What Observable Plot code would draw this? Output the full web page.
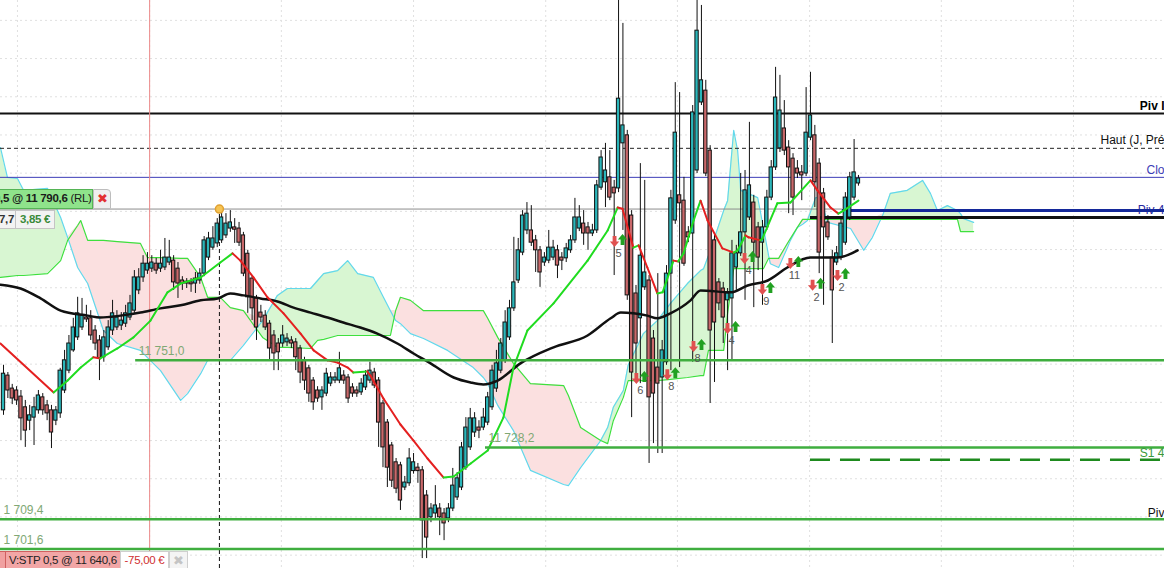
<!DOCTYPE html>
<html>
<head>
<meta charset="utf-8">
<script src="https://cdn.jsdelivr.net/npm/d3@7"></script>
<script src="https://cdn.jsdelivr.net/npm/@observablehq/plot@0.6"></script>
<style>
  html, body { margin: 0; padding: 0; overflow: hidden; background: #fff; }
  #chart { position: relative; width: 1164px; height: 568px; overflow: hidden;
           font-family: "Liberation Sans", Arial, sans-serif; }
  .tag { position: absolute; box-sizing: border-box; font-size: 11.5px; line-height: 17px;
         white-space: nowrap; border: 1px solid; overflow: hidden; letter-spacing: -0.3px; }
</style>
</head>
<body>
<div id="chart"></div>
<script>
// candles, one per bar (price units)
const open = [11737.9,11747.0,11743.6,11743.1,11741.5,11738.7,11735.2,11736.0,11737.9,11741.3,
  11739.2,11737.9,11735.2,11737.1,11743.1,11748.3,11753.6,11757.0,11759.6,11762.2,
  11762.0,11758.8,11756.2,11751.8,11754.4,11758.8,11759.6,11760.1,11760.6,11762.2,
  11764.0,11769.3,11772.7,11774.5,11775.0,11776.3,11775.0,11775.3,11776.6,11777.1,
  11775.0,11771.9,11771.6,11771.4,11771.1,11771.9,11773.7,11777.9,11780.5,11781.6,
  11782.4,11783.7,11785.5,11785.8,11785.5,11783.7,11778.9,11772.4,11767.2,11763.5,
  11762.7,11760.6,11757.5,11755.4,11755.4,11755.7,11756.2,11755.7,11754.1,11751.0,
  11748.9,11745.7,11743.1,11741.3,11742.3,11744.9,11745.7,11745.7,11747.0,11746.5,
  11743.9,11743.1,11742.6,11743.9,11745.7,11747.8,11745.7,11739.7,11734.7,11728.7,
  11724.3,11723.5,11717.7,11718.8,11722.0,11722.9,11722.2,11715.6,11709.9,11710.9,
  11712.2,11710.9,11709.6,11712.2,11715.1,11717.7,11722.9,11728.2,11732.1,11733.4,
  11733.4,11734.7,11738.7,11743.6,11748.3,11751.0,11757.0,11764.6,11771.9,11779.2,
  11785.0,11785.0,11782.4,11779.8,11776.6,11777.1,11777.9,11779.8,11777.9,11777.7,
  11779.8,11782.4,11785.5,11786.8,11785.8,11784.2,11785.0,11796.2,11797.6,11798.9,
  11796.2,11796.0,11807.8,11809.9,11788.9,11768.5,11762.0,11770.1,11771.9,11756.7,
  11749.1,11746.5,11750.5,11773.7,11787.6,11794.2,11792.8,11784.5,11784.2,11800.7,
  11818.5,11821.6,11805.9,11782.4,11771.4,11769.8,11766.7,11767.2,11775.3,11779.0,
  11784.5,11788.4,11792.3,11785.8,11781.8,11785.8,11793.6,11801.5,11806.5,11811.7,
  11806.7,11803.8,11801.2,11800.2,11799.9,11809.3,11809.9,11802.5,11794.7,11787.1,
  11777.9,11776.6,11777.9,11781.8,11788.4,11793.6,11797.3];
const high = [11749.7,11747.8,11744.7,11744.1,11743.1,11740.5,11739.2,11741.3,11743.1,11742.3,
  11740.5,11739.2,11738.9,11748.9,11753.6,11757.5,11762.0,11767.5,11767.2,11765.4,
  11764.0,11760.1,11757.5,11758.8,11761.4,11766.7,11764.0,11763.5,11765.4,11768.0,
  11774.5,11775.0,11778.4,11779.2,11778.4,11777.7,11779.8,11782.9,11782.4,11778.4,
  11776.6,11772.9,11772.4,11772.4,11774.0,11775.0,11783.4,11784.5,11786.0,11788.1,
  11789.7,11789.4,11790.2,11788.1,11787.1,11784.5,11779.8,11773.2,11768.0,11765.4,
  11764.0,11761.4,11758.8,11756.7,11760.1,11758.0,11757.2,11756.7,11754.9,11751.8,
  11749.7,11746.5,11744.1,11744.1,11748.9,11747.8,11747.8,11753.1,11748.3,11747.3,
  11744.9,11744.1,11746.2,11748.3,11750.5,11748.9,11746.5,11740.5,11735.5,11729.5,
  11725.3,11724.3,11720.6,11727.9,11726.6,11724.0,11723.2,11716.9,11713.5,11718.2,
  11713.5,11712.2,11713.5,11722.7,11721.6,11729.5,11736.0,11738.4,11737.3,11735.2,
  11738.4,11742.6,11749.7,11753.6,11756.7,11764.0,11766.7,11783.2,11782.9,11790.2,
  11792.3,11791.5,11783.7,11780.8,11779.2,11785.0,11782.4,11781.1,11779.2,11781.6,
  11783.7,11793.4,11791.5,11790.2,11787.1,11786.6,11798.1,11805.9,11807.8,11805.9,
  11798.1,11846.5,11839.2,11811.2,11790.2,11770.6,11802.5,11798.1,11773.2,11758.8,
  11773.7,11756.2,11775.8,11795.5,11823.7,11821.1,11798.9,11786.0,11817.7,11846.5,
  11843.9,11824.3,11807.2,11783.7,11772.4,11771.4,11769.8,11782.4,11781.1,11799.9,
  11800.7,11813.3,11794.2,11787.1,11787.6,11795.5,11803.3,11827.7,11825.6,11819.0,
  11808.5,11805.1,11803.3,11802.0,11822.4,11826.4,11812.5,11803.8,11796.0,11788.9,
  11779.8,11780.8,11788.1,11794.9,11800.2,11808.8,11799.4];
const low = [11736.6,11741.0,11739.4,11739.2,11730.0,11728.2,11732.6,11728.7,11736.9,11736.6,
  11735.2,11727.9,11733.9,11735.8,11742.3,11747.5,11753.1,11756.2,11758.8,11760.9,
  11756.2,11753.6,11745.7,11750.5,11753.6,11757.5,11758.8,11758.8,11759.6,11761.4,
  11763.3,11768.2,11771.4,11773.5,11774.0,11773.5,11774.0,11774.5,11775.8,11769.3,
  11767.2,11769.3,11769.8,11768.8,11768.5,11770.9,11772.9,11777.1,11779.8,11780.5,
  11781.6,11782.9,11784.5,11781.6,11780.8,11772.9,11763.3,11761.4,11756.2,11760.9,
  11758.8,11751.0,11748.3,11748.3,11754.4,11754.6,11754.1,11748.3,11744.9,11743.1,
  11740.0,11737.9,11740.0,11737.9,11741.5,11744.1,11744.9,11744.9,11744.7,11739.7,
  11741.3,11741.3,11741.8,11743.1,11744.9,11743.6,11728.2,11722.9,11717.7,11717.7,
  11716.1,11711.7,11716.9,11718.0,11721.2,11718.8,11699.1,11699.1,11708.5,11709.6,
  11705.1,11703.8,11708.5,11711.4,11714.3,11716.9,11722.2,11727.4,11730.8,11730.5,
  11732.6,11733.9,11737.9,11742.6,11747.5,11750.2,11756.2,11763.8,11771.1,11778.4,
  11783.9,11780.8,11774.0,11770.1,11775.6,11776.3,11777.1,11772.4,11774.5,11776.6,
  11779.0,11781.6,11784.7,11781.1,11779.8,11783.4,11784.2,11795.5,11791.0,11792.8,
  11773.2,11794.9,11785.0,11766.7,11736.0,11745.7,11744.9,11769.3,11724.0,11729.2,
  11726.6,11726.6,11749.7,11748.3,11786.6,11749.1,11775.6,11781.8,11750.5,11799.9,
  11817.7,11799.1,11739.7,11745.2,11764.0,11755.4,11748.3,11751.0,11769.3,11778.2,
  11766.7,11787.6,11764.8,11774.5,11765.4,11785.0,11792.8,11800.7,11805.4,11804.6,
  11789.4,11788.9,11798.6,11792.8,11799.1,11808.5,11791.0,11773.7,11765.4,11782.4,
  11755.4,11775.8,11777.1,11781.1,11787.6,11792.8,11796.6];
const close = [11747.5,11743.1,11741.0,11740.5,11735.8,11732.6,11736.6,11738.7,11741.8,11737.9,
  11737.1,11732.1,11737.9,11748.3,11751.0,11755.4,11759.6,11763.3,11762.7,11761.7,
  11757.5,11755.4,11751.5,11757.0,11759.6,11763.3,11762.2,11761.4,11763.3,11765.9,
  11772.7,11772.7,11776.3,11776.3,11776.6,11774.5,11776.3,11777.9,11777.9,11771.4,
  11771.1,11771.1,11771.1,11770.9,11772.4,11773.7,11782.4,11782.9,11782.9,11786.8,
  11788.4,11786.8,11787.1,11785.2,11781.8,11773.7,11767.5,11764.6,11759.6,11762.2,
  11759.6,11754.1,11752.8,11753.1,11757.5,11756.7,11755.4,11751.8,11747.8,11745.7,
  11742.3,11740.0,11741.0,11743.1,11747.5,11746.5,11746.5,11748.9,11745.7,11741.0,
  11742.3,11742.3,11744.9,11747.0,11748.3,11744.4,11734.7,11728.2,11722.9,11719.5,
  11717.4,11714.3,11719.0,11725.3,11724.3,11722.0,11709.1,11704.6,11712.2,11713.0,
  11709.9,11708.3,11712.2,11718.2,11720.1,11728.2,11733.4,11735.8,11735.8,11732.6,
  11736.0,11741.3,11748.3,11750.2,11755.4,11760.9,11764.6,11771.4,11779.8,11788.9,
  11789.4,11781.8,11779.8,11774.0,11777.9,11780.5,11780.5,11775.8,11777.1,11780.3,
  11782.4,11788.4,11788.4,11784.2,11784.2,11785.0,11796.8,11804.1,11800.7,11793.6,
  11794.7,11819.5,11812.5,11768.0,11747.8,11755.4,11778.4,11774.0,11741.3,11742.3,
  11744.9,11753.6,11773.7,11793.4,11810.6,11792.1,11776.3,11783.2,11815.9,11837.3,
  11824.3,11799.9,11758.8,11760.9,11765.9,11762.2,11768.5,11779.0,11779.0,11784.5,
  11795.5,11796.8,11781.8,11777.9,11785.8,11793.6,11801.5,11819.8,11816.4,11805.9,
  11801.5,11793.6,11799.9,11799.4,11810.6,11815.1,11797.6,11779.2,11785.8,11783.2,
  11769.3,11779.0,11786.8,11793.6,11798.9,11800.2,11798.6];

// slow moving average (black), vertices read at bar positions
const slowX = [-0.7,3.9,8.5,13.1,19.3,22.2,26.8,31.4,36.0,40.6,45.2,49.1,52.0,55.0,58.9,62.8,66.5,70.4,74.3,77.9,
  81.8,85.7,90.3,94.0,97.9,103.2,107.1,110.0,113.3,118.5,126.1,133.9,139.2,141.5,144.4,147.6,149.9,152.9,157.5,159.8,
  166.7,170.6,175.2,179.7,185.0,191.2,195.8];
const slowY = [11770.8,11769.8,11767.2,11764.0,11762.7,11762.2,11762.7,11763.5,11764.6,11765.4,11766.7,11767.2,11768.5,11768.0,11767.2,11766.4,11764.8,11763.5,11762.2,11760.9,
  11759.6,11758.0,11755.4,11752.8,11750.2,11746.5,11745.2,11744.7,11745.7,11750.2,11754.4,11757.5,11762.0,11763.5,11763.3,11762.7,11762.0,11763.3,11766.7,11769.3,
  11768.8,11770.6,11771.9,11775.3,11777.9,11777.9,11779.8];

// fast moving average (red when falling, green when rising)
const fastX = [-0.7,11.5,14.7,17.7,20.6,22.2,26.1,29.8,33.7,37.6,40.6,45.2,49.7,52.5,54.3,57.3,60.5,64.2,68.1,71.1,
  74.3,76.6,78.9,80.2,83.4,84.1,87.1,91.0,94.0,97.2,100.9,103.2,107.1,111.0,114.6,116.9,120.1,126.1,133.9,138.5,
  140.8,141.9,144.4,145.6,147.6,149.9,151.1,153.6,154.7,155.9,158.2,159.8,161.4,164.8,167.4,168.3,170.1,170.8,173.5,174.0,
  177.4,180.4,185.0,186.6,189.6,191.4,192.6,196.0];
const fastY = [11755.4,11742.6,11745.7,11749.1,11751.8,11751.5,11754.1,11757.0,11761.4,11768.8,11771.1,11772.7,11776.6,11779.0,11777.1,11772.7,11767.5,11763.3,11758.0,11753.6,
  11751.0,11750.4,11749.1,11747.8,11748.1,11747.0,11741.0,11734.2,11730.0,11725.3,11720.3,11720.6,11724.0,11727.4,11736.0,11749.1,11758.8,11765.9,11777.1,11785.0,
  11791.0,11790.7,11780.5,11781.1,11775.3,11768.5,11768.8,11777.1,11776.9,11779.0,11787.6,11792.8,11787.6,11780.3,11779.2,11779.8,11783.7,11783.2,11782.4,11782.9,
  11792.1,11792.3,11798.1,11795.5,11791.0,11789.4,11790.2,11792.8];

// cloud: both spans read at the same bar positions
const cloudX = [-0.7,0.9,3.2,4.6,10.1,13.1,14.7,17.0,17.7,19.3,22.9,26.1,31.4,33.0,36.0,40.6,42.2,45.2,46.8,49.7,
  52.0,55.0,59.4,62.8,65.1,70.4,72.0,73.4,76.6,78.9,81.2,84.8,87.1,88.7,89.9,91.0,93.3,96.3,101.8,107.7,
  110.0,111.0,113.3,116.9,120.8,128.4,129.5,132.3,136.9,138.5,139.8,142.1,143.2,146.7,149.9,152.9,156.8,159.8,160.5,161.6,
  162.8,165.1,166.0,167.4,168.3,169.0,172.9,174.2,175.4,175.8,177.7,179.7,180.4,182.0,183.2,184.3,186.2,187.3,188.9,194.2,
  197.2,199.2,201.7,203.3,207.2,210.7,212.5,214.1,216.4,218.7,219.4,220.1,222.4];
const spanA = [11806.7,11798.9,11798.6,11795.5,11796.0,11788.4,11783.2,11775.3,11774.0,11771.1,11758.8,11755.4,11753.6,11751.7,11748.3,11740.5,11742.3,11747.5,11751.0,11751.0,
  11751.0,11754.9,11761.4,11768.0,11769.8,11769.8,11771.9,11773.7,11774.5,11777.1,11773.7,11772.7,11767.5,11764.0,11761.4,11760.6,11758.0,11756.7,11753.6,11749.1,
  11746.5,11744.9,11739.2,11732.6,11722.2,11718.5,11718.2,11722.9,11730.0,11733.4,11738.7,11743.1,11749.7,11758.0,11761.4,11765.9,11771.1,11774.5,11775.0,11778.4,
  11782.4,11790.2,11792.8,11811.2,11805.9,11795.5,11793.6,11785.8,11778.4,11776.3,11775.3,11780.5,11782.4,11785.8,11786.6,11787.6,11793.6,11793.6,11787.1,11785.5,
  11779.8,11783.2,11789.4,11794.7,11795.5,11798.1,11794.7,11790.2,11791.5,11790.2,11789.4,11788.1,11787.1];
const spanB = [11772.7,11772.9,11773.2,11773.2,11773.7,11777.1,11782.4,11786.3,11787.6,11782.4,11782.4,11782.1,11781.6,11777.9,11777.9,11777.7,11777.7,11772.7,11767.5,11767.5,
  11764.8,11764.0,11757.0,11754.4,11754.4,11754.1,11756.2,11756.5,11757.5,11757.5,11757.5,11757.5,11757.5,11757.5,11764.0,11767.5,11766.7,11764.0,11764.0,11764.0,
  11764.0,11762.0,11757.0,11750.2,11744.9,11744.4,11741.8,11733.4,11730.0,11729.2,11735.2,11741.3,11745.7,11745.7,11745.7,11746.0,11746.5,11747.0,11747.0,11753.6,
  11753.6,11753.6,11763.3,11775.0,11775.0,11775.0,11775.0,11775.0,11777.7,11777.7,11777.7,11781.6,11782.9,11785.8,11787.9,11787.9,11787.9,11787.9,11787.9,11787.9,
  11787.9,11787.9,11787.9,11787.9,11787.9,11787.9,11787.9,11787.9,11787.9,11787.9,11784.7,11784.7,11784.7];

// horizontal levels
const greenLevels = [11751.0, 11728.2, 11709.4, 11701.6];
const greenStarts = [30.3, 110.5, -0.7, -0.7];
const greenTexts = ["11 751,0", "11 728,2", "1 709,4", "1 701,6"];
const pivTop = 11815.6, hautLevel = 11806.5, cloLevel = 11798.9;
const orderPrice = 11790.6, pivBlue = 11790.2, pivBlack = 11788.4, s1Dashed = 11725.0, s1Level = 11728.2, pivLow = 11709.4;
const pivBlueStart = 192.3, pivBlackStart = 185.0, orderEnd = 192.3;
const cursorBar = 33.5, entryBar = 49.5;

// signal arrows with counts
const signalX = [141.0, 146.0, 153.1, 159.1, 166.9, 170.8, 174.9, 181.3, 186.4, 192.1];
const signalY = [11782.4, 11746.5, 11747.5, 11754.9, 11759.6, 11777.9, 11769.8, 11776.6, 11770.9, 11773.5];
const signalN = ["5", "6", "8", "8", "4", "4", "9", "11", "2", "2"];

const gridX = [3.2, 33.5, 63.7, 94.0, 124.3, 154.5, 184.8, 215.0, 245.3];
const gridY = [11700, 11710, 11720, 11730, 11740, 11750, 11760, 11770, 11780, 11790, 11800, 11810, 11820, 11830, 11840];

const xMin = -0.688, xMax = 266.16;

const candles = open.map((o, i) => ({i, open: o, high: high[i], low: low[i], close: close[i], up: close[i] >= o}));
const slow = slowX.map((x, k) => ({x, y: slowY[k]}));
const fastSegs = d3.pairs(fastX.map((x, k) => ({x, y: fastY[k]})))
  .map(([a, b]) => ({x1: a.x, y1: a.y, x2: b.x, y2: b.y, col: b.y >= a.y ? "#20dc20" : "#e42020"}));
const cloud = cloudX.map((x, k) => ({x, a: spanA[k], b: spanB[k], top: Math.max(spanA[k], spanB[k])}));
const signals = signalX.map((x, k) => ({x, y: signalY[k], n: signalN[k]}));
const greens = greenLevels.map((p, k) => ({p, s: greenStarts[k], t: greenTexts[k]}));

const arrowDown = {draw(ctx, size) {
  const r = Math.sqrt(size / Math.PI);
  ctx.moveTo(-r * 0.35, -r); ctx.lineTo(r * 0.35, -r); ctx.lineTo(r * 0.35, 0);
  ctx.lineTo(r * 0.85, 0); ctx.lineTo(0, r); ctx.lineTo(-r * 0.85, 0); ctx.lineTo(-r * 0.35, 0); ctx.closePath();
}};
const arrowUp = {draw(ctx, size) {
  const r = Math.sqrt(size / Math.PI);
  ctx.moveTo(-r * 0.35, r); ctx.lineTo(r * 0.35, r); ctx.lineTo(r * 0.35, 0);
  ctx.lineTo(r * 0.85, 0); ctx.lineTo(0, -r); ctx.lineTo(-r * 0.85, 0); ctx.lineTo(-r * 0.35, 0); ctx.closePath();
}};

const rightLabel = (text, p, dy, fill, weight = "normal") =>
  Plot.text([text], {frameAnchor: "right", y: p, textAnchor: "end", fill, fontWeight: weight, dy});

const plot = Plot.plot({
  width: 1164,
  height: 568,
  margin: 0,
  x: {domain: [xMin, xMax], axis: null},
  y: {domain: [11696.5, 11845.2], axis: null},
  color: {type: "identity"},
  style: {fontFamily: "'Liberation Sans', Arial, sans-serif", fontSize: "12px", background: "#fff", overflow: "hidden"},
  marks: [
    Plot.ruleY(gridY, {stroke: "#e0e0e0", strokeDasharray: "2,3"}),
    Plot.ruleX(gridX, {stroke: "#e0e0e0", strokeDasharray: "2,3"}),
    // cloud
    Plot.areaY(cloud, {x: "x", y1: "b", y2: "top", fill: "#d8f6d2"}),
    Plot.areaY(cloud, {x: "x", y1: "a", y2: "top", fill: "#fbe0e0"}),
    Plot.line(cloud, {x: "x", y: "a", stroke: "#62d8ec", strokeWidth: 1.2}),
    Plot.line(cloud, {x: "x", y: "b", stroke: "#3ee03e", strokeWidth: 1.2}),
    // thin levels
    Plot.ruleY([pivTop], {x1: xMin, x2: xMax, stroke: "#111", strokeWidth: 2}),
    Plot.ruleY([hautLevel], {x1: xMin, x2: xMax, stroke: "#222", strokeDasharray: "4,3"}),
    Plot.ruleY([cloLevel], {x1: xMin, x2: xMax, stroke: "#3d3db8"}),
    Plot.ruleY([orderPrice], {x1: xMin, x2: orderEnd, stroke: "#8c8c8c"}),
    rightLabel("Piv 4", pivBlue, 0, "#2a2aa0"),
    Plot.ruleY([pivBlue], {x1: pivBlueStart, x2: xMax, stroke: "#14289a", strokeWidth: 3}),
    Plot.ruleY([pivBlack], {x1: pivBlackStart, x2: xMax, stroke: "#111", strokeWidth: 3}),
    Plot.ruleY([s1Dashed], {x1: pivBlackStart, x2: xMax, stroke: "#1e8a1e", strokeWidth: 2.5, strokeDasharray: "20,10"}),
    // cursor and entry lines
    Plot.ruleX([cursorBar], {stroke: "#ec8a8a", strokeWidth: 1}),
    Plot.ruleX([entryBar], {y1: 11696.5, y2: orderPrice, stroke: "#111", strokeDasharray: "4,3"}),
    // candles
    Plot.ruleX(candles, {x: "i", y1: "low", y2: "high", stroke: "#111", strokeWidth: 1}),
    Plot.rect(candles, {x1: d => d.i - 0.38, x2: d => d.i + 0.38, y1: "open", y2: "close",
      fill: d => d.up ? "#2bb6ba" : "#c9686a", stroke: "#111", strokeWidth: 1}),
    // moving averages
    Plot.line(slow, {x: "x", y: "y", stroke: "#111", strokeWidth: 2.5, curve: "monotone-x"}),
    Plot.link(fastSegs, {x1: "x1", y1: "y1", x2: "x2", y2: "y2", stroke: "col", strokeWidth: 2, strokeLinecap: "round"}),
    // green levels on top
    Plot.ruleY(greens, {y: "p", x1: "s", x2: xMax, stroke: "#3fae3f", strokeWidth: 2.5}),
    Plot.text(greens, {x: "s", y: "p", text: "t", textAnchor: "start", dx: 3, dy: -9, fill: "#80a874"}),
    rightLabel("Piv I", pivTop, -7, "#000", "bold"),
    rightLabel("Haut (J, Pré", hautLevel, -8, "#111"),
    rightLabel("Clo", cloLevel, -7, "#3b3bb5"),
    rightLabel("S1 4", s1Level, 6, "#3a9a3a"),
    rightLabel("Piv", pivLow, -6, "#111"),
    // entry dot
    Plot.dot([[entryBar, orderPrice]], {r: 4, fill: "#f6c453", stroke: "#e0a030"}),
    // signal arrows
    Plot.dot(signals, {x: "x", y: "y", symbol: arrowDown, r: 5.5, fill: "#e05050", dx: -4, dy: 1}),
    Plot.dot(signals, {x: "x", y: "y", symbol: arrowUp, r: 5.5, fill: "#21a021", dx: 4, dy: -1}),
    Plot.text(signals, {x: "x", y: "y", text: "n", dy: 13, fill: "#555", fontSize: 11})
  ]
});

const chart = document.getElementById("chart");
chart.append(plot);

const yPix = plot.scale("y").apply(orderPrice);
function tag(left, top, width, height, html, css) {
  const d = document.createElement("div");
  d.className = "tag";
  d.style.left = left + "px"; d.style.top = top + "px";
  d.style.width = width + "px"; d.style.height = height + "px";
  Object.assign(d.style, css);
  d.innerHTML = html;
  chart.append(d);
}
// order tag (top left)
tag(-3, yPix - 20, 96, 20, "<b>0,5 @ 11 790,6</b> (RL)",
  {background: "#8fe38b", borderColor: "#55b455", color: "#1a1a1a", textIndent: "-4px"});
tag(93, yPix - 20, 18, 20, "&#10006;",
  {background: "#efefef", borderColor: "#bdbdbd", color: "#e23030", textAlign: "center", fontSize: "13px", borderTopRightRadius: "4px"});
tag(-3, yPix + 1, 19, 19, "<b>7,7</b>",
  {background: "#f3f3f3", borderColor: "#c4c4c4", color: "#333", textAlign: "right", paddingRight: "1px"});
tag(15, yPix + 1, 40, 19, "<b>3,85 €</b>",
  {background: "#f3f3f3", borderColor: "#c4c4c4", color: "#3a8a3a", textAlign: "center"});
// stop tag (bottom left)
tag(-4, 551, 10, 22, "", {background: "#f0a0a0", borderColor: "#d06060"});
tag(5, 551, 116, 22, "V:STP 0,5 @ 11 640,6",
  {background: "#f2a6a6", borderColor: "#d06060", color: "#222", paddingLeft: "3px"});
tag(120, 551, 49, 22, "-75,00 €",
  {background: "#fff", borderColor: "#cfcfcf", color: "#d03030", textAlign: "center"});
tag(169, 551, 19, 22, "&#10006;",
  {background: "#f4f4f4", borderColor: "#cfcfcf", color: "#c4c4c4", textAlign: "center", fontSize: "13px"});
</script>
</body>
</html>
